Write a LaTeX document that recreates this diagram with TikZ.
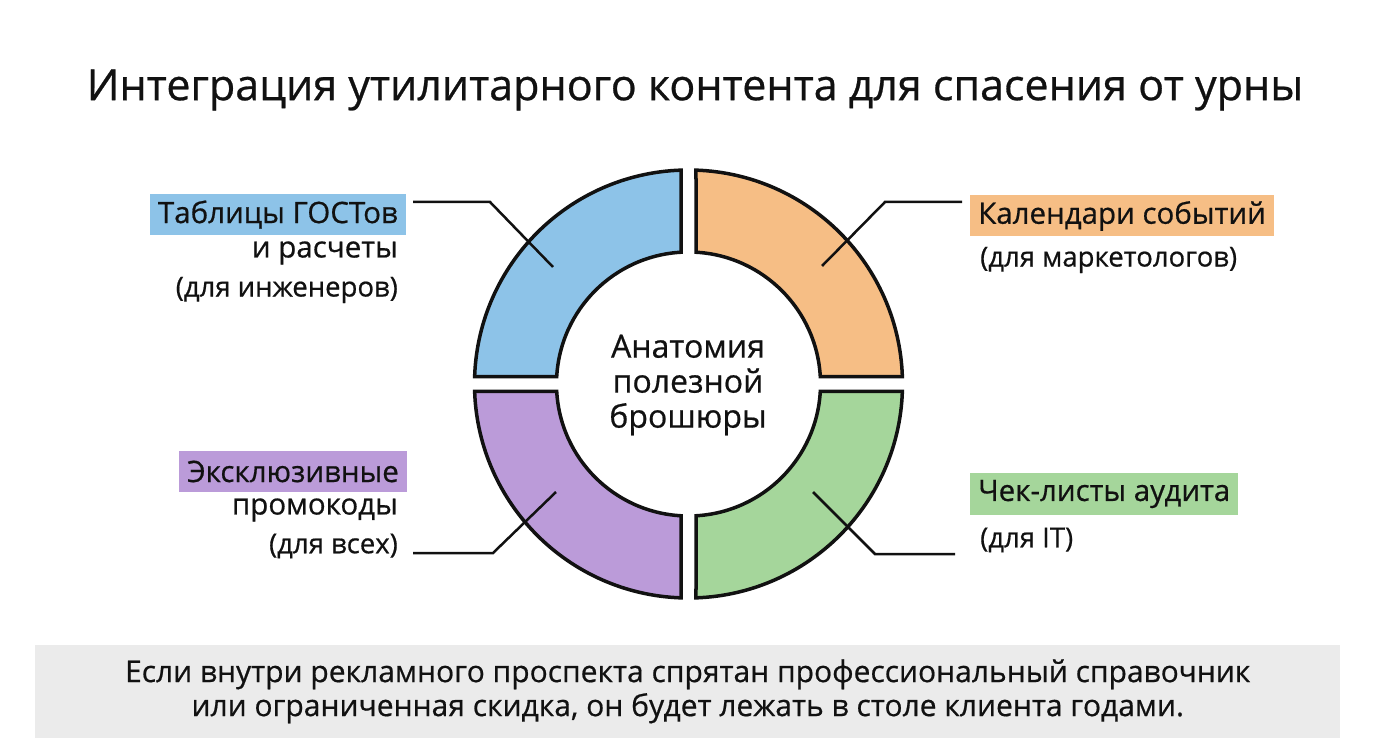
\documentclass[tikz,border=0pt]{standalone}
\usepackage{fontspec}
\setmainfont{Open Sans}[FakeBold=0.6]
\usetikzlibrary{calc}
\definecolor{blueC}{HTML}{8DC3E8}
\definecolor{orangeC}{HTML}{F6BE85}
\definecolor{purpleC}{HTML}{BB9BD9}
\definecolor{greenC}{HTML}{A5D69B}
\definecolor{boxgray}{HTML}{EBEBEB}
\definecolor{ink}{HTML}{111111}
\begin{document}
\begin{tikzpicture}[x=1pt,y=1pt,
  seg/.style={draw=ink,line width=3.5pt,line join=miter},
  leader/.style={draw=ink,line width=2.5pt},
  hl/.style={inner xsep=8pt,inner ysep=0pt,minimum height=41pt,text=ink,font=\fontsize{29.5}{31}\selectfont},
  sub/.style={inner sep=0pt,text=ink,font=\fontsize{29.5}{31}\selectfont},
  subs/.style={inner sep=0pt,text=ink,font=\fontsize{27.5}{30}\selectfont}]
\useasboundingbox (0,0) rectangle (1376,745);
\fill[white] (0,0) rectangle (1376,745);
% title
\node[text=ink,font=\fontsize{43}{48}\selectfont] (title) at (695,655) {Интеграция утилитарного контента для спасения от урны};
% ring
\coordinate (C) at (688.5,361);
\pgfmathsetmacro{\a}{asin(7.5/214)}
\pgfmathsetmacro{\b}{asin(7.5/132)}
\foreach \s/\col in {0/orangeC,90/blueC,180/purpleC,270/greenC}{
  \draw[seg,fill=\col] ($(C)+(\s+\a:214pt)$) arc[start angle=\s+\a,end angle=\s+90-\a,radius=214pt]
    -- ($(C)+(\s+90-\b:132pt)$) arc[start angle=\s+90-\b,end angle=\s+\b,radius=132pt] -- cycle;
}
\node[align=center,text=ink,font=\fontsize{32}{35}\selectfont] (center) at (688,360) {Анатомия\\полезной\\брошюры};
% top-left label
\node[hl,fill=blueC,anchor=east] (tl1) at (406,530.5) {Таблицы ГОСТов};
\node[sub,anchor=east] (tl2) at (398,492) {и расчеты};
\node[subs,anchor=east] (tl3) at (398,455) {(для инженеров)};
% top-right label
\node[hl,fill=orangeC,anchor=west] (tr1) at (970,529) {Календари событий};
\node[subs,anchor=west] (tr2) at (980,485) {(для маркетологов)};
% bottom-left label
\node[hl,fill=purpleC,anchor=east] (bl1) at (407,273.5) {Эксклюзивные};
\node[sub,anchor=east] (bl2) at (398,235) {промокоды};
\node[subs,anchor=east] (bl3) at (398,199) {(для всех)};
% bottom-right label
\node[hl,fill=greenC,anchor=west] (br1) at (970,251) {Чек-листы аудита};
\node[subs,anchor=west] (br2) at (980,205) {(для IT)};
% leaders
\coordinate (tlA) at (413,543); \coordinate (tlB) at (490,543); \coordinate (tlC) at (553,478);
\coordinate (trA) at (962,543); \coordinate (trB) at (885,543); \coordinate (trC) at (822,479);
\coordinate (blA) at (413,192); \coordinate (blB) at (493,192); \coordinate (blC) at (556,253);
\coordinate (brA) at (955,191); \coordinate (brB) at (875,191); \coordinate (brC) at (813,253);
\draw[leader] (tlA) -- (tlB) -- (tlC);
\draw[leader] (trA) -- (trB) -- (trC);
\draw[leader] (blA) -- (blB) -- (blC);
\draw[leader] (brA) -- (brB) -- (brC);
% bottom box
\node[fill=boxgray,minimum width=1305pt,minimum height=93pt,inner sep=0pt,anchor=south west] (box) at (35,7) {};
\node[align=center,text=ink,font=\fontsize{30}{34}\selectfont] (note) at (box.center) {Если внутри рекламного проспекта спрятан профессиональный справочник\\или ограниченная скидка, он будет лежать в столе клиента годами.};
\end{tikzpicture}
\end{document}
